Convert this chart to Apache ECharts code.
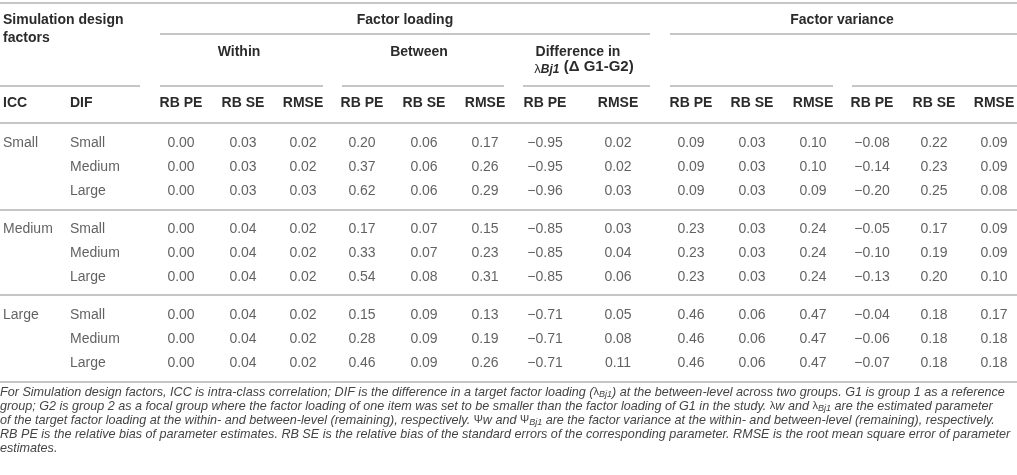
<!DOCTYPE html>
<html>
<head>
<meta charset="utf-8">
<script src="https://cdn.jsdelivr.net/npm/echarts@6/dist/echarts.min.js"></script>
<style>
html, body { margin: 0; padding: 0; background: #fff; }
#tbl { width: 1017px; height: 475px; }
</style>
</head>
<body>
<div id="tbl"></div>
<script>
// table values, rows = ICC group x DIF level
var iccLevels = ['Small', 'Medium', 'Large'];
var difLevels = ['Small', 'Medium', 'Large'];
var colHeads = ['RB PE', 'RB SE', 'RMSE', 'RB PE', 'RB SE', 'RMSE', 'RB PE', 'RMSE',
    'RB PE', 'RB SE', 'RMSE', 'RB PE', 'RB SE', 'RMSE'];

var flWithinRbPe  = [0.00, 0.00, 0.00, 0.00, 0.00, 0.00, 0.00, 0.00, 0.00];
var flWithinRbSe  = [0.03, 0.03, 0.03, 0.04, 0.04, 0.04, 0.04, 0.04, 0.04];
var flWithinRmse  = [0.02, 0.02, 0.03, 0.02, 0.02, 0.02, 0.02, 0.02, 0.02];
var flBetweenRbPe = [0.20, 0.37, 0.62, 0.17, 0.33, 0.54, 0.15, 0.28, 0.46];
var flBetweenRbSe = [0.06, 0.06, 0.06, 0.07, 0.07, 0.08, 0.09, 0.09, 0.09];
var flBetweenRmse = [0.17, 0.26, 0.29, 0.15, 0.23, 0.31, 0.13, 0.19, 0.26];
var diffRbPe      = [-0.95, -0.95, -0.96, -0.85, -0.85, -0.85, -0.71, -0.71, -0.71];
var diffRmse      = [0.02, 0.02, 0.03, 0.03, 0.04, 0.06, 0.05, 0.08, 0.11];
var fvWithinRbPe  = [0.09, 0.09, 0.09, 0.23, 0.23, 0.23, 0.46, 0.46, 0.46];
var fvWithinRbSe  = [0.03, 0.03, 0.03, 0.03, 0.03, 0.03, 0.06, 0.06, 0.06];
var fvWithinRmse  = [0.10, 0.10, 0.09, 0.24, 0.24, 0.24, 0.47, 0.47, 0.47];
var fvBetweenRbPe = [-0.08, -0.14, -0.20, -0.05, -0.10, -0.13, -0.04, -0.06, -0.07];
var fvBetweenRbSe = [0.22, 0.23, 0.25, 0.17, 0.19, 0.20, 0.18, 0.18, 0.18];
var fvBetweenRmse = [0.09, 0.09, 0.08, 0.09, 0.09, 0.10, 0.17, 0.18, 0.18];

var columns = [flWithinRbPe, flWithinRbSe, flWithinRmse, flBetweenRbPe, flBetweenRbSe, flBetweenRmse,
    diffRbPe, diffRmse, fvWithinRbPe, fvWithinRbSe, fvWithinRmse, fvBetweenRbPe, fvBetweenRbSe, fvBetweenRmse];

// layout (pixels)
var W = 1017, H = 475;
var colX = [181, 243, 303, 362, 424, 485, 545, 618, 691, 752, 813, 872, 934, 994];
var iccX = 3, difX = 70;
var groupY = [143, 229, 315];
var rowStep = 24;
var ruleColor = '#c6c6c6';
var textColor = '#3a3a3a';
var headColor = '#2b2b2b';
var noteColor = '#444';
var fontFam = '"Liberation Sans", Arial, sans-serif';

function rowY(r) {
    return groupY[Math.floor(r / 3)] + (r % 3) * rowStep;
}
function fmt(v) {
    var s = Math.abs(v).toFixed(2);
    return v < 0 ? '\u2212' + s : s;
}

var cellData = [];
for (var c = 0; c < columns.length; c++) {
    for (var r = 0; r < columns[c].length; r++) {
        cellData.push([colX[c], rowY(r), columns[c][r]]);
    }
}
var iccData = [];
var difData = [];
for (var g = 0; g < iccLevels.length; g++) {
    iccData.push({value: [iccX, groupY[g]], name: iccLevels[g]});
    for (var d = 0; d < difLevels.length; d++) {
        difData.push({value: [difX, rowY(g * 3 + d)], name: difLevels[d]});
    }
}

function rule(x1, x2, y) {
    return {
        type: 'line', silent: true,
        shape: {x1: x1, y1: y, x2: x2, y2: y},
        style: {stroke: ruleColor, lineWidth: 2}
    };
}
function head(txt, x, y, align, rich) {
    return {
        type: 'text', silent: true, x: x, y: y,
        style: {
            text: txt, fill: headColor, font: 'bold 14px ' + fontFam,
            textAlign: align || 'center', textVerticalAlign: 'middle', rich: rich
        }
    };
}

var graphics = [
    rule(0, W, 3),
    rule(160, 650, 34), rule(670, W, 34),
    rule(0, 140, 86), rule(160, 323, 86), rule(342, 504, 86), rule(523, 650, 86),
    rule(670, 833, 86), rule(852, W, 86),
    rule(0, W, 123), rule(0, W, 210), rule(0, W, 295), rule(0, W, 382),
    head('Simulation design', 3, 20, 'left'),
    head('factors', 3, 38, 'left'),
    head('Factor loading', 405, 20),
    head('Factor variance', 842, 20),
    head('Within', 239, 52), head('Between', 419, 52),
    head('Difference in', 578, 52),
    head('{l|\u03bb}{s|Bj1}{b| (\u0394 G1-G2)}', 584, 67, 'center', {
        l: {fontSize: 13, fontWeight: 'normal', fill: headColor, fontFamily: fontFam, lineHeight: 17, verticalAlign: 'bottom'},
        s: {fontSize: 12, fontWeight: 'bold', fontStyle: 'italic', fill: headColor, fontFamily: fontFam, lineHeight: 11, verticalAlign: 'bottom'},
        b: {fontSize: 15, fontWeight: 'bold', fill: headColor, fontFamily: fontFam, lineHeight: 17}
    }),
    head('ICC', 3, 103, 'left'),
    head('DIF', 70, 103, 'left')
];
for (var h = 0; h < colHeads.length; h++) {
    graphics.push(head(colHeads[h], colX[h], 103));
}

// footnote
var noteLines = [
    'For Simulation design factors, ICC is intra-class correlation; DIF is the difference in a target factor loading ({g|\u03bb}{s|Bj1}) at the between-level across two groups. G1 is group 1 as a reference',
    'group; G2 is group 2 as a focal group where the factor loading of one item was set to be smaller than the factor loading of G1 in the study. {g|\u03bb}w and {g|\u03bb}{s|Bj1} are the estimated parameter',
    'of the target factor loading at the within- and between-level (remaining), respectively. {g|\u03a8}w and {g|\u03a8}{s|Bj1} are the factor variance at the within- and between-level (remaining), respectively.',
    'RB PE is the relative bias of parameter estimates. RB SE is the relative bias of the standard errors of the corresponding parameter. RMSE is the root mean square error of parameter',
    'estimates.'
];
var noteRich = {
    g: {fontSize: 11, fontStyle: 'normal', fill: noteColor, fontFamily: fontFam, lineHeight: 14},
    s: {fontSize: 9, fontStyle: 'italic', fill: noteColor, fontFamily: fontFam, lineHeight: 9, verticalAlign: 'bottom'}
};
for (var n = 0; n < noteLines.length; n++) {
    graphics.push({
        type: 'text', silent: true, x: 0, y: 392 + n * 14,
        style: {
            text: noteLines[n], fill: noteColor, font: 'italic 12.6px ' + fontFam,
            textAlign: 'left', textVerticalAlign: 'middle', lineHeight: 14, rich: noteRich
        }
    });
}

var tblChart = echarts.init(document.getElementById('tbl'));

option = {
    animation: false,
    grid: {left: 0, right: 0, top: 0, bottom: 0},
    xAxis: {type: 'value', min: 0, max: W, show: false},
    yAxis: {type: 'value', min: 0, max: H, inverse: true, show: false},
    graphic: graphics,
    series: [
        {
            name: 'cells', type: 'scatter', symbolSize: 0, silent: true,
            data: cellData,
            label: {
                show: true, position: 'inside', color: textColor,
                fontSize: 14, fontFamily: fontFam,
                formatter: function (p) { return fmt(p.value[2]); }
            }
        },
        {
            name: 'icc', type: 'scatter', symbolSize: 0, silent: true,
            data: iccData,
            label: {
                show: true, position: 'right', distance: 0, color: textColor,
                fontSize: 14, fontFamily: fontFam, formatter: '{b}'
            }
        },
        {
            name: 'dif', type: 'scatter', symbolSize: 0, silent: true,
            data: difData,
            label: {
                show: true, position: 'right', distance: 0, color: textColor,
                fontSize: 14, fontFamily: fontFam, formatter: '{b}'
            }
        }
    ]
};

if (option && typeof option === "object") {
    tblChart.setOption(option, true);
}
</script>
</body>
</html>
